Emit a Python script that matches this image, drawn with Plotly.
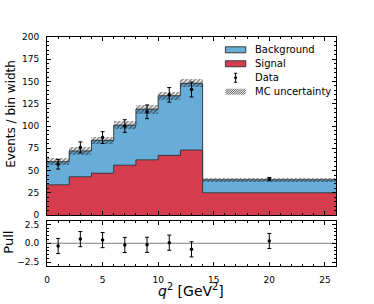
import plotly.graph_objects as go

# ---- data ----
bin_edges = [0, 2, 4, 6, 8, 10, 12, 14, 26]
signal = [34, 43, 47, 56, 62, 67, 73, 25]
total = [60, 72, 84, 101, 119, 134, 148, 39.6]
mc_unc = [4.2, 4.4, 4.1, 4.6, 5.0, 4.3, 4.3, 2.2]
data_y = [57, 76, 87, 100, 116, 135, 141, 40.4]
data_err = [5.3, 6.2, 6.6, 7.1, 7.7, 8.2, 8.4, 1.8]
pull = [-0.36, 0.55, 0.42, -0.22, -0.2, 0.08, -0.8, 0.3]
pull_err = [1, 1, 1, 1, 1, 1, 1, 1]
legend_labels = ["Background", "Signal", "Data", "MC uncertainty"]

centers = [(a + b) / 2 for a, b in zip(bin_edges[:-1], bin_edges[1:])]
widths = [b - a for a, b in zip(bin_edges[:-1], bin_edges[1:])]
bkg = [t - s for t, s in zip(total, signal)]

BLUE = "#67ADD8"
RED = "#D63E50"
EDGE = "#3a3a3a"
FONT = "DejaVu Sans"

W, H = 374, 304
PL, PR, PT, PB = 46.5, 336.5, 36.7, 266  # plot area in window pixels
L, R, T, B = PL, W - PR, PT, H - PB
pw = W - L - R
ph = H - T - B


def px(x):
    return (x - L) / pw


def py(y):
    return (H - B - y) / ph


fig = go.Figure()

fig.add_trace(go.Bar(x=centers, y=signal, base=[0] * len(signal), width=widths,
                     marker=dict(color=RED, line=dict(width=0)), name="Signal",
                     showlegend=False))
fig.add_trace(go.Bar(x=centers, y=bkg, base=signal, width=widths,
                     marker=dict(color=BLUE, line=dict(width=0)), name="Background",
                     showlegend=False))
# step outlines
fig.add_trace(go.Scatter(x=bin_edges, y=signal + [signal[-1]], mode="lines",
                         line=dict(shape="hv", color=EDGE, width=1), showlegend=False,
                         hoverinfo="skip"))
fig.add_trace(go.Scatter(x=bin_edges, y=total + [total[-1]], mode="lines",
                         line=dict(shape="hv", color=EDGE, width=1), showlegend=False,
                         hoverinfo="skip"))
# MC uncertainty hatch
fig.add_trace(go.Bar(x=centers, y=[2 * u for u in mc_unc],
                     base=[t - u for t, u in zip(total, mc_unc)], width=widths,
                     marker=dict(color="rgba(0,0,0,0)", line=dict(width=0),
                                 pattern=dict(shape="/", fgcolor="#111111", bgcolor="rgba(0,0,0,0)",
                                              size=3, solidity=0.55, fillmode="overlay")),
                     name="MC uncertainty", showlegend=False))
# data
fig.add_trace(go.Scatter(x=centers, y=data_y, mode="markers",
                         marker=dict(color="black", size=3.5),
                         error_y=dict(type="data", array=data_err, color="black", thickness=1, width=2),
                         name="Data", showlegend=False))
# pulls
fig.add_trace(go.Scatter(x=centers, y=pull, mode="markers",
                         marker=dict(color="black", size=3.5),
                         error_y=dict(type="data", array=pull_err, color="black", thickness=1, width=2),
                         showlegend=False, xaxis="x2", yaxis="y2"))

axis_common = dict(showline=True, linecolor="black", linewidth=1, mirror="allticks",
                   ticks="inside", ticklen=4, tickcolor="black", showgrid=False, zeroline=False,
                   automargin=False, ticklabelstandoff=5,
                   tickfont=dict(family=FONT, size=9, color="black"))
minor_common = dict(ticks="inside", ticklen=2, tickcolor="black")

# ---- custom legend (shapes + text) ----
shapes = [dict(type="line", xref="x2", yref="y2", x0=0, x1=26, y0=0, y1=0,
               line=dict(color="gray", width=1), layer="below")]
annotations = []
leg_x0, leg_x1 = 225.5, 246
row_y = [49.5, 63.5, 77.5, 91.5]
shapes.append(dict(type="rect", xref="paper", yref="paper", x0=px(leg_x0), x1=px(leg_x1),
                   y0=py(row_y[0] + 3), y1=py(row_y[0] - 3), fillcolor=BLUE,
                   line=dict(color=EDGE, width=1)))
shapes.append(dict(type="rect", xref="paper", yref="paper", x0=px(leg_x0), x1=px(leg_x1),
                   y0=py(row_y[1] + 3), y1=py(row_y[1] - 3), fillcolor=RED,
                   line=dict(color=EDGE, width=1)))
cx = (leg_x0 + leg_x1) / 2
shapes.append(dict(type="line", xref="paper", yref="paper", x0=px(cx), x1=px(cx),
                   y0=py(row_y[2] + 4.5), y1=py(row_y[2] - 4.5), line=dict(color="black", width=1)))
for dy in (-4.5, 4.5):
    shapes.append(dict(type="line", xref="paper", yref="paper", x0=px(cx - 1.5), x1=px(cx + 1.5),
                       y0=py(row_y[2] + dy), y1=py(row_y[2] + dy), line=dict(color="black", width=1)))
shapes.append(dict(type="circle", xref="paper", yref="paper", x0=px(cx - 1.5), x1=px(cx + 1.5),
                   y0=py(row_y[2] + 1.5), y1=py(row_y[2] - 1.5), fillcolor="black",
                   line=dict(color="black", width=0)))
hy0, hy1 = row_y[3] + 3, row_y[3] - 3
hh = hy0 - hy1
step = 2.2
s = leg_x0 - hh
while s < leg_x1:
    xa, ya = s, hy0
    xb, yb = s + hh, hy1
    if xa < leg_x0:
        ya = hy0 - (leg_x0 - xa)
        xa = leg_x0
    if xb > leg_x1:
        yb = hy1 + (xb - leg_x1)
        xb = leg_x1
    if xb > xa:
        shapes.append(dict(type="line", xref="paper", yref="paper", x0=px(xa), x1=px(xb),
                           y0=py(ya), y1=py(yb), line=dict(color="#222222", width=0.8)))
    s += step

for lab, yy in zip(legend_labels, row_y):
    annotations.append(dict(text=lab, xref="paper", yref="paper", x=px(253), y=py(yy),
                            xanchor="left", yanchor="middle", showarrow=False,
                            font=dict(family=FONT, size=10, color="black")))

annotations += [
    dict(text="Events / bin width", xref="paper", yref="paper", x=px(11),
         y=py(114), textangle=-90, showarrow=False,
         font=dict(family=FONT, size=12, color="black"), xanchor="center", yanchor="middle"),
    dict(text="Pull", xref="paper", yref="paper", x=px(7.5),
         y=py(242.5), textangle=-90, showarrow=False,
         font=dict(family=FONT, size=13, color="black"), xanchor="center", yanchor="middle"),
    dict(text="<i>q</i><sup>2</sup> [GeV<sup>2</sup>]", xref="paper", yref="paper", x=px(191),
         y=py(290.5), showarrow=False, font=dict(family=FONT, size=14, color="black"),
         xanchor="center", yanchor="middle"),
]

fig.update_layout(
    width=W, height=H, margin=dict(l=L, r=R, t=T, b=B, autoexpand=False),
    paper_bgcolor="white", plot_bgcolor="white",
    barmode="overlay", bargap=0,
    font=dict(family=FONT, color="black"),
    showlegend=False,
    xaxis=dict(range=[0, 26], domain=[0, 1], anchor="y", showticklabels=False,
               dtick=5, minor=dict(dtick=1, **minor_common), **axis_common),
    yaxis=dict(range=[0, 200], domain=[py(215), 1], anchor="x", dtick=25,
               minor=dict(dtick=5, **minor_common), **axis_common),
    xaxis2=dict(range=[0, 26], domain=[0, 1], anchor="y2", dtick=5,
                minor=dict(dtick=1, **minor_common), **axis_common),
    yaxis2=dict(range=[-3, 3], domain=[0, py(220.5)], anchor="x2", dtick=2.5, tickformat=".1f",
                minor=dict(dtick=0.5, **minor_common), **axis_common),
    shapes=shapes,
    annotations=annotations,
)

fig.write_html("out.html", config={"displayModeBar": False},
               post_script="document.body.style.margin='0';document.body.style.overflow='hidden';")
